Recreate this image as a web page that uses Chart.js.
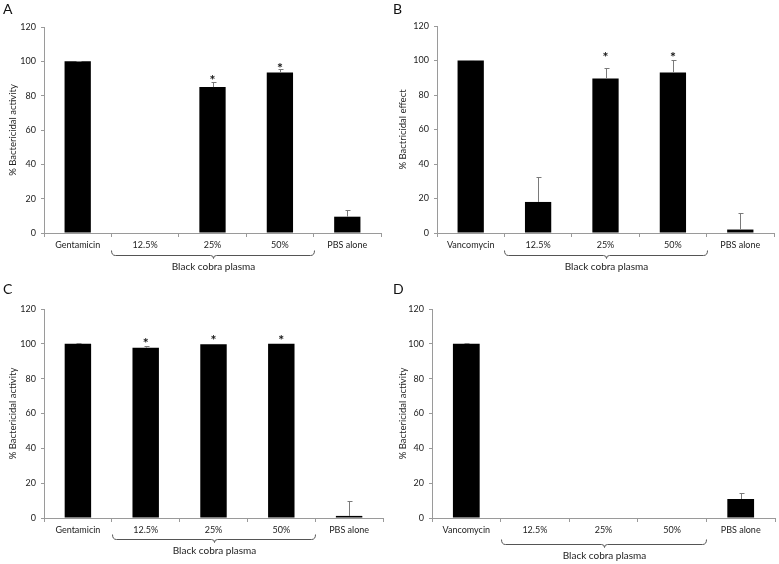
<!DOCTYPE html>
<html><head><meta charset="utf-8">
<script src="https://cdn.jsdelivr.net/npm/chart.js@4/dist/chart.umd.min.js"></script>
<style>
html,body{margin:0;padding:0;background:#fff;}
#wrap{position:relative;width:779px;height:564px;overflow:hidden;}
canvas{position:absolute;}
</style></head><body>
<div id="wrap">
<canvas id="cA" width="390" height="280" style="left:0;top:0"></canvas>
<canvas id="cB" width="389" height="280" style="left:390px;top:0"></canvas>
<canvas id="cC" width="390" height="284" style="left:0;top:280px"></canvas>
<canvas id="cD" width="389" height="284" style="left:390px;top:280px"></canvas>
</div>
<script>
// ---- data ----
const categoriesA = ['Gentamicin', '12.5%', '25%', '50%', 'PBS alone'];
const categoriesB = ['Vancomycin', '12.5%', '25%', '50%', 'PBS alone'];
const categoriesC = ['Gentamicin', '12.5%', '25%', '50%', 'PBS alone'];
const categoriesD = ['Vancomycin', '12.5%', '25%', '50%', 'PBS alone'];

const valuesA = [100, 0, 85, 93.5, 9.5];
const errorsA = [0.3, 0, 3, 2, 3.7];
const starsA  = [null, null, 91, 98, null];

const valuesB = [100, 18, 89.6, 93, 2];
const errorsB = [0.3, 14.2, 5.8, 7.3, 9.8];
const starsB  = [null, null, 104, 103.6, null];

const valuesC = [100, 97.8, 99.8, 100, 1.2];
const errorsC = [0.3, 1.2, 0, 0, 8.7];
const starsC  = [null, 102.4, 103.9, 103.9, null];

const valuesD = [100, 0, 0, 0, 10.9];
const errorsD = [0.3, 0, 0, 0, 3.3];
const starsD  = [null, null, null, null, null];

const yTickValues = [0, 20, 40, 60, 80, 100, 120];
const yTitleA = '% Bactericidal activity';
const yTitleB = '% Bactricidal effect';
const yTitleC = '% Bactericidal activity';
const yTitleD = '% Bactericidal activity';
const groupLabel = 'Black cobra plasma';
const panelLetters = ['A', 'B', 'C', 'D'];

// ---- layout (pixels, per canvas) ----
const layouts = [
  {id: 'cA', W: 390, H: 280, L: 44, T: 27, R: 381, B: 233, brace: 22},
  {id: 'cB', W: 389, H: 280, L: 47, T: 26, R: 384, B: 233, brace: 22},
  {id: 'cC', W: 390, H: 284, L: 44, T: 29, R: 383, B: 238, brace: 21},
  {id: 'cD', W: 389, H: 284, L: 42, T: 29, R: 385, B: 238, brace: 26}
];

const panels = [
  {cats: categoriesA, vals: valuesA, errs: errorsA, stars: starsA, title: yTitleA},
  {cats: categoriesB, vals: valuesB, errs: errorsB, stars: starsB, title: yTitleB},
  {cats: categoriesC, vals: valuesC, errs: errorsC, stars: starsC, title: yTitleC},
  {cats: categoriesD, vals: valuesD, errs: errorsD, stars: starsD, title: yTitleD}
];

const FONT = 'Lato';
const AXIS = '#9a9a9a';
const TEXT = '#222';

const decorPlugin = {
  id: 'decor',
  afterDatasetsDraw(chart, args, opts) {
    const ctx = chart.ctx, x = chart.scales.x, y = chart.scales.y;
    const p = opts.panel;
    ctx.save();
    // error bars (upper only)
    ctx.strokeStyle = '#7a7a7a';
    ctx.lineWidth = 1;
    p.vals.forEach((v, i) => {
      const e = p.errs[i];
      if (!e) return;
      const xc = Math.round(x.getPixelForValue(i)) + 0.5;
      const yb = y.getPixelForValue(v);
      const yt = Math.round(y.getPixelForValue(v + e)) + 0.5;
      ctx.beginPath();
      ctx.moveTo(xc, yb); ctx.lineTo(xc, yt);
      ctx.moveTo(xc - 2, yt); ctx.lineTo(xc + 3, yt);
      ctx.stroke();
    });
    // significance stars
    ctx.fillStyle = '#111';
    ctx.font = 'bold 14px ' + FONT;
    ctx.textAlign = 'center';
    ctx.textBaseline = 'alphabetic';
    p.stars.forEach((s, i) => {
      if (s == null) return;
      ctx.fillText('*', x.getPixelForValue(i), y.getPixelForValue(s) + 8);
    });
    ctx.restore();
  },
  afterDraw(chart, args, opts) {
    const ctx = chart.ctx, x = chart.scales.x, y = chart.scales.y;
    const lay = opts.layout;
    ctx.save();
    // brace under the plasma groups
    const half = (x.getPixelForValue(1) - x.getPixelForValue(0)) / 2;
    const x1 = Math.round(x.getPixelForValue(1) - half) + 0.5;
    const x2 = Math.round(x.getPixelForValue(3) + half) + 0.5;
    const xm = Math.round((x1 + x2) / 2) + 0.5;
    const yl = Math.round(y.bottom + lay.brace) + 0.5;
    ctx.strokeStyle = '#555';
    ctx.lineWidth = 1;
    ctx.beginPath();
    ctx.moveTo(x1, yl - 5);
    ctx.quadraticCurveTo(x1, yl, x1 + 4, yl);
    ctx.lineTo(xm - 3, yl);
    ctx.quadraticCurveTo(xm, yl, xm, yl + 3);
    ctx.quadraticCurveTo(xm, yl, xm + 3, yl);
    ctx.lineTo(x2 - 4, yl);
    ctx.quadraticCurveTo(x2, yl, x2, yl - 5);
    ctx.stroke();
    ctx.fillStyle = TEXT;
    ctx.font = '10px ' + FONT;
    ctx.textAlign = 'center';
    ctx.textBaseline = 'middle';
    ctx.fillText(groupLabel, xm, yl + 11.5);
    // panel letter
    ctx.fillStyle = '#111';
    ctx.font = '14px ' + FONT;
    ctx.textAlign = 'left';
    ctx.textBaseline = 'alphabetic';
    ctx.fillText(opts.letter, 3, 14);
    ctx.restore();
  }
};

panels.forEach((p, k) => {
  const lay = layouts[k];
  new Chart(document.getElementById(lay.id), {
    type: 'bar',
    data: {
      labels: p.cats,
      datasets: [{
        data: p.vals,
        backgroundColor: '#000',
        borderWidth: 0,
        barPercentage: 0.39,
        categoryPercentage: 1.0
      }]
    },
    options: {
      responsive: false,
      devicePixelRatio: 1,
      animation: false,
      events: [],
      layout: {padding: {left: 0, top: lay.T, right: lay.W - lay.R, bottom: 0}},
      plugins: {
        legend: {display: false},
        tooltip: {enabled: false},
        decor: {panel: p, layout: lay, letter: panelLetters[k]}
      },
      scales: {
        x: {
          offset: true,
          grid: {display: true, drawOnChartArea: false, drawTicks: true, tickLength: 4, color: AXIS, offset: true},
          border: {display: true, color: AXIS, width: 1},
          ticks: {color: TEXT, font: {family: FONT, size: 9}, padding: 3, maxRotation: 0, autoSkip: false},
          afterFit(s) { s.height = lay.H - lay.B; }
        },
        y: {
          min: 0, max: 120,
          afterBuildTicks(s) { s.ticks = yTickValues.map(v => ({value: v})); },
          grid: {display: true, drawOnChartArea: false, drawTicks: true, tickLength: 3, color: AXIS},
          border: {display: true, color: AXIS, width: 1},
          ticks: {color: TEXT, font: {family: FONT, size: 9}, padding: 5},
          title: {display: true, text: p.title, color: TEXT, font: {family: FONT, size: 9.5}, padding: {top: 7.5, bottom: 0}},
          afterFit(s) { s.width = lay.L; }
        }
      }
    },
    plugins: [decorPlugin]
  });
});
</script>
</body></html>
